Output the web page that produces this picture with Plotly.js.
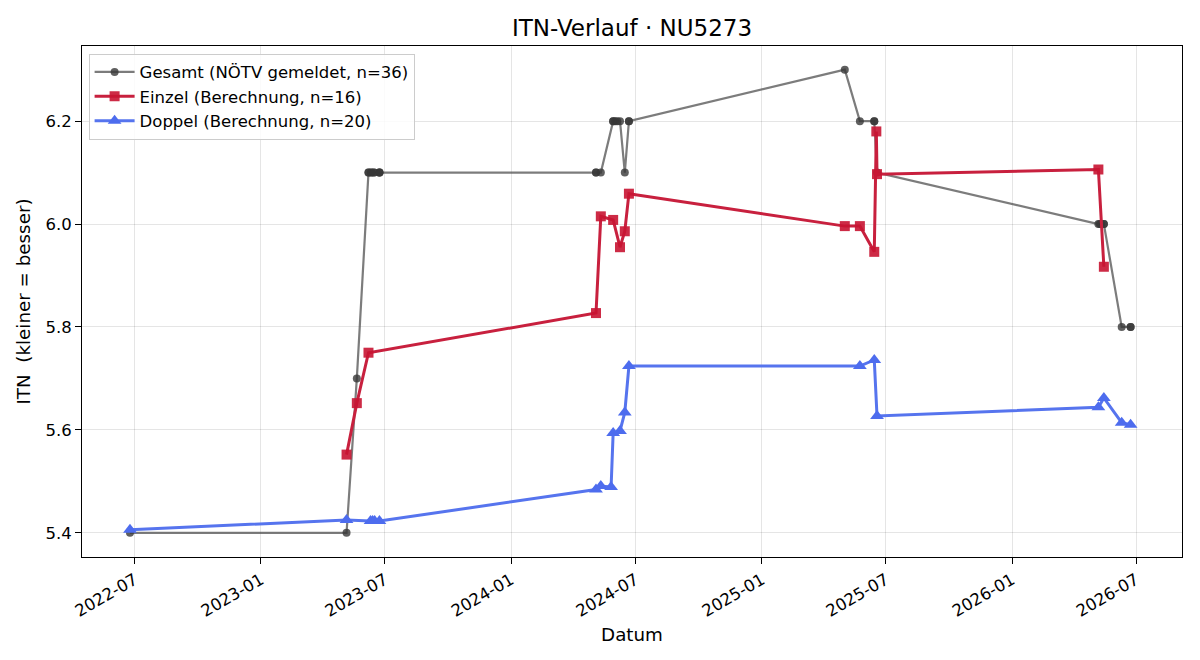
<!DOCTYPE html>
<html>
<head>
<meta charset="utf-8">
<script src="https://cdn.plot.ly/plotly-3.0.1.min.js"></script>
<style>html,body{margin:0;padding:0;background:#fff}#chart{width:1200px;height:660px}</style>
</head>
<body>
<div id="chart"></div>
<script>
const gesamtDates = ["2022-06-24","2023-05-06","2023-05-21","2023-06-07","2023-06-07","2023-06-11","2023-06-11","2023-06-15","2023-06-15","2023-06-23","2023-06-23","2023-06-23","2024-05-04","2024-05-04","2024-05-11","2024-05-29","2024-05-29","2024-06-01","2024-06-04","2024-06-08","2024-06-15","2024-06-21","2024-06-21","2025-05-02","2025-05-24","2025-06-14","2025-06-14","2025-06-18","2026-05-07","2026-05-09","2026-05-11","2026-05-15","2026-05-15","2026-06-10","2026-06-23","2026-06-23"];
const gesamtValues = [5.4,5.4,5.7,6.1,6.1,6.1,6.1,6.1,6.1,6.1,6.1,6.1,6.1,6.1,6.1,6.2,6.2,6.2,6.2,6.2,6.1,6.2,6.2,6.3,6.2,6.2,6.2,6.1,6.0,6.0,6.0,6.0,6.0,5.8,5.8,5.8];

const einzelDates = ["2023-05-06","2023-05-21","2023-06-07","2024-05-04","2024-05-11","2024-05-29","2024-06-08","2024-06-15","2024-06-21","2025-05-02","2025-05-24","2025-06-14","2025-06-17","2025-06-18","2026-05-07","2026-05-15"];
const einzelValues = [5.552,5.652,5.750,5.827,6.015,6.008,5.955,5.986,6.059,5.996,5.996,5.946,6.180,6.097,6.106,5.917];

const doppelDates = ["2022-06-24","2023-05-06","2023-06-10","2023-06-13","2023-06-16","2023-06-23","2024-05-04","2024-05-11","2024-05-26","2024-05-29","2024-06-08","2024-06-15","2024-06-21","2025-05-24","2025-06-14","2025-06-18","2026-05-07","2026-05-15","2026-06-10","2026-06-23"];
const doppelValues = [5.406,5.425,5.423,5.423,5.423,5.423,5.484,5.491,5.489,5.594,5.598,5.634,5.724,5.724,5.736,5.627,5.644,5.662,5.614,5.610];

const seriesNames = ["Gesamt (NÖTV gemeldet, n=36)","Einzel (Berechnung, n=16)","Doppel (Berechnung, n=20)"];
const yTicks = [5.4,5.6,5.8,6.0,6.2];
const yTickLabels = ["5.4","5.6","5.8","6.0","6.2"];

const FONT = "DejaVu Sans, sans-serif";

const traces = [
  {x: gesamtDates, y: gesamtValues, name: seriesNames[0], type: "scatter", mode: "lines+markers",
   line: {color: "rgba(80,80,80,0.75)", width: 2.2},
   marker: {symbol: "circle", size: 8, color: "rgba(55,55,55,0.8)"}},
  {x: einzelDates, y: einzelValues, name: seriesNames[1], type: "scatter", mode: "lines+markers",
   line: {color: "#c8203e", width: 3},
   marker: {symbol: "square", size: 10, color: "rgba(200,20,50,0.9)"}},
  {x: doppelDates, y: doppelValues, name: seriesNames[2], type: "scatter", mode: "lines+markers",
   line: {color: "#5674ee", width: 3},
   marker: {symbol: "triangle-up", size: 12, color: "#4d6cee"}}
];

const layout = {
  width: 1200, height: 660,
  paper_bgcolor: "#fff", plot_bgcolor: "#fff",
  font: {family: FONT, size: 16.5, color: "#000"},
  margin: {l: 82, r: 18, t: 46, b: 103},
  title: {text: "ITN-Verlauf · NU5273", font: {family: FONT, size: 23, color: "#000"}, xref: "paper", x: 0.5, xanchor: "center", y: 0.958, yanchor: "middle"},
  showlegend: true,
  legend: {x: 0.006, y: 0.985, xanchor: "left", yanchor: "top", bgcolor: "rgba(255,255,255,0.85)", bordercolor: "#cccccc", borderwidth: 1, font: {family: FONT, size: 16.5}, itemwidth: 40, tracegroupgap: 0},
  xaxis: {
    type: "date",
    range: ["2022-04-15", "2026-09-06"],
    tick0: "2022-07-01", dtick: "M6", tickformat: "%Y-%m",
    tickangle: -30,
    ticks: "outside", ticklen: 6, tickcolor: "#000",
    showgrid: true, gridcolor: "rgba(0,0,0,0.1)",
    showline: true, linecolor: "#000", linewidth: 1, mirror: true,
    zeroline: false, automargin: false,
    tickfont: {family: FONT, size: 16.5},
    title: {text: "Datum", font: {family: FONT, size: 18.3}, standoff: 8}
  },
  yaxis: {
    range: [5.353, 6.346],
    tickvals: yTicks, ticktext: yTickLabels,
    ticks: "outside", ticklen: 6, tickcolor: "#000",
    showgrid: true, gridcolor: "rgba(0,0,0,0.1)",
    showline: true, linecolor: "#000", linewidth: 1, mirror: true,
    zeroline: false, automargin: false,
    tickfont: {family: FONT, size: 16.5},
    title: {text: "ITN  (kleiner = besser)", font: {family: FONT, size: 18.3}, standoff: 10}
  }
};

Plotly.newPlot("chart", traces, layout, {displayModeBar: false, staticPlot: true});
</script>
</body>
</html>
